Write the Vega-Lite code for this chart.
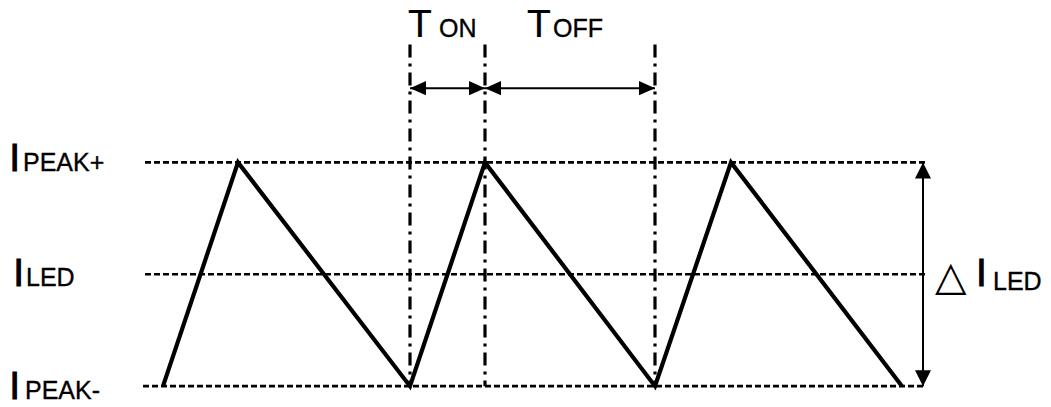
{
  "$schema": "https://vega.github.io/schema/vega-lite/v6.json",
  "width": 1051,
  "height": 407,
  "autosize": {"type": "fit", "contains": "padding"},
  "padding": 0,
  "background": "white",
  "config": {"view": {"stroke": null}},
  "datasets": {
    "levels": [
      {"name": "PEAK+", "t0": 145, "t1": 925, "v": 1},
      {"name": "LED", "t0": 145, "t1": 925, "v": 0},
      {"name": "PEAK-", "t0": 143, "t1": 925, "v": -1}
    ],
    "wave": [
      {"t": 163, "v": -1},
      {"t": 238, "v": 1},
      {"t": 410, "v": -1},
      {"t": 485, "v": 1},
      {"t": 655, "v": -1},
      {"t": 731, "v": 1},
      {"t": 902, "v": -1}
    ],
    "marks": [
      {"t": 410, "v0": 2.053, "v1": -1},
      {"t": 485, "v0": 2.053, "v1": -1},
      {"t": 655, "v0": 2.053, "v1": -1}
    ],
    "spans": [
      {"t0": 410, "t1": 485, "v": 1.6637},
      {"t0": 485, "t1": 655, "v": 1.6637}
    ],
    "vspan": [
      {"t": 923, "v0": 1, "v1": -1}
    ],
    "heads": [
      {"t": 410, "v": 1.6637, "dir": "left"},
      {"t": 485, "v": 1.6637, "dir": "right"},
      {"t": 485, "v": 1.6637, "dir": "left"},
      {"t": 655, "v": 1.6637, "dir": "right"},
      {"t": 923, "v": 1, "dir": "up"},
      {"t": 923, "v": -1, "dir": "down"}
    ],
    "bigI": [
      {"t": 9.3, "v": 0.9204, "label": "I"},
      {"t": 13.3, "v": -0.1062, "label": "I"},
      {"t": 9.3, "v": -1.115, "label": "I"},
      {"t": 976, "v": -0.1062, "label": "I"}
    ],
    "bigT": [
      {"t": 408, "v": 2.1239, "label": "T"},
      {"t": 527, "v": 2.1239, "label": "T"}
    ],
    "smallText": [
      {"t": 23, "v": 0.9204, "label": "PEAK+"},
      {"t": 26, "v": -0.1062, "label": "LED"},
      {"t": 25, "v": -1.115, "label": "PEAK-"},
      {"t": 439, "v": 2.1239, "label": "ON"},
      {"t": 553, "v": 2.1239, "label": "OFF"},
      {"t": 993, "v": -0.1416, "label": "LED"}
    ],
    "delta": [
      {"t": 935, "v": -0.1416, "label": "△"}
    ]
  },
  "layer": [
    {
      "data": {"name": "levels"},
      "mark": {"type": "rule", "color": "black", "strokeWidth": 2.6, "strokeDash": [6, 3]},
      "encoding": {
        "x": {"field": "t0", "type": "quantitative", "scale": {"domain": [0, 1051], "nice": false, "zero": false}, "axis": null},
        "x2": {"field": "t1"},
        "y": {"field": "v", "type": "quantitative", "scale": {"domain": [-1.1504, 2.4513], "nice": false, "zero": false}, "axis": null}
      }
    },
    {
      "data": {"name": "marks"},
      "mark": {"type": "rule", "color": "black", "strokeWidth": 3.2, "strokeDash": [13, 6, 3, 6]},
      "encoding": {
        "x": {"field": "t", "type": "quantitative", "scale": {"domain": [0, 1051], "nice": false, "zero": false}, "axis": null},
        "y": {"field": "v0", "type": "quantitative", "scale": {"domain": [-1.1504, 2.4513], "nice": false, "zero": false}, "axis": null},
        "y2": {"field": "v1"}
      }
    },
    {
      "data": {"name": "wave"},
      "mark": {"type": "line", "color": "black", "strokeWidth": 4.2, "strokeJoin": "miter"},
      "encoding": {
        "x": {"field": "t", "type": "quantitative", "scale": {"domain": [0, 1051], "nice": false, "zero": false}, "axis": null},
        "y": {"field": "v", "type": "quantitative", "scale": {"domain": [-1.1504, 2.4513], "nice": false, "zero": false}, "axis": null}
      }
    },
    {
      "data": {"name": "spans"},
      "mark": {"type": "rule", "color": "black", "strokeWidth": 2},
      "encoding": {
        "x": {"field": "t0", "type": "quantitative", "scale": {"domain": [0, 1051], "nice": false, "zero": false}, "axis": null},
        "x2": {"field": "t1"},
        "y": {"field": "v", "type": "quantitative", "scale": {"domain": [-1.1504, 2.4513], "nice": false, "zero": false}, "axis": null}
      }
    },
    {
      "data": {"name": "vspan"},
      "mark": {"type": "rule", "color": "black", "strokeWidth": 2},
      "encoding": {
        "x": {"field": "t", "type": "quantitative", "scale": {"domain": [0, 1051], "nice": false, "zero": false}, "axis": null},
        "y": {"field": "v0", "type": "quantitative", "scale": {"domain": [-1.1504, 2.4513], "nice": false, "zero": false}, "axis": null},
        "y2": {"field": "v1"}
      }
    },
    {
      "data": {"name": "heads"},
      "mark": {"type": "point", "filled": true, "color": "black", "opacity": 1, "size": 1024, "strokeWidth": 0},
      "encoding": {
        "x": {"field": "t", "type": "quantitative", "scale": {"domain": [0, 1051], "nice": false, "zero": false}, "axis": null},
        "y": {"field": "v", "type": "quantitative", "scale": {"domain": [-1.1504, 2.4513], "nice": false, "zero": false}, "axis": null},
        "shape": {
          "field": "dir",
          "type": "nominal",
          "legend": null,
          "scale": {
            "domain": ["left", "right", "up", "down"],
            "range": ["M0,0L1,-0.45L1,0.45Z", "M0,0L-1,-0.45L-1,0.45Z", "M0,0L-0.5,1L0.5,1Z", "M0,0L-0.5,-1L0.5,-1Z"]
          }
        }
      }
    },
    {
      "data": {"name": "bigI"},
      "mark": {"type": "text", "align": "left", "baseline": "alphabetic", "font": "Liberation Sans", "fontSize": 39, "color": "black", "stroke": "black", "strokeWidth": 0.9},
      "encoding": {
        "x": {"field": "t", "type": "quantitative", "scale": {"domain": [0, 1051], "nice": false, "zero": false}, "axis": null},
        "y": {"field": "v", "type": "quantitative", "scale": {"domain": [-1.1504, 2.4513], "nice": false, "zero": false}, "axis": null},
        "text": {"field": "label"}
      }
    },
    {
      "data": {"name": "bigT"},
      "mark": {"type": "text", "align": "left", "baseline": "alphabetic", "font": "Liberation Sans", "fontSize": 39, "color": "black", "stroke": "black", "strokeWidth": 0.2},
      "encoding": {
        "x": {"field": "t", "type": "quantitative", "scale": {"domain": [0, 1051], "nice": false, "zero": false}, "axis": null},
        "y": {"field": "v", "type": "quantitative", "scale": {"domain": [-1.1504, 2.4513], "nice": false, "zero": false}, "axis": null},
        "text": {"field": "label"}
      }
    },
    {
      "data": {"name": "smallText"},
      "mark": {"type": "text", "align": "left", "baseline": "alphabetic", "font": "Liberation Sans", "fontSize": 25, "color": "black", "stroke": "black", "strokeWidth": 0.35},
      "encoding": {
        "x": {"field": "t", "type": "quantitative", "scale": {"domain": [0, 1051], "nice": false, "zero": false}, "axis": null},
        "y": {"field": "v", "type": "quantitative", "scale": {"domain": [-1.1504, 2.4513], "nice": false, "zero": false}, "axis": null},
        "text": {"field": "label"}
      }
    },
    {
      "data": {"name": "delta"},
      "mark": {"type": "text", "align": "left", "baseline": "alphabetic", "font": "DejaVu Sans", "fontSize": 41, "color": "black"},
      "encoding": {
        "x": {"field": "t", "type": "quantitative", "scale": {"domain": [0, 1051], "nice": false, "zero": false}, "axis": null},
        "y": {"field": "v", "type": "quantitative", "scale": {"domain": [-1.1504, 2.4513], "nice": false, "zero": false}, "axis": null},
        "text": {"field": "label"}
      }
    }
  ]
}
